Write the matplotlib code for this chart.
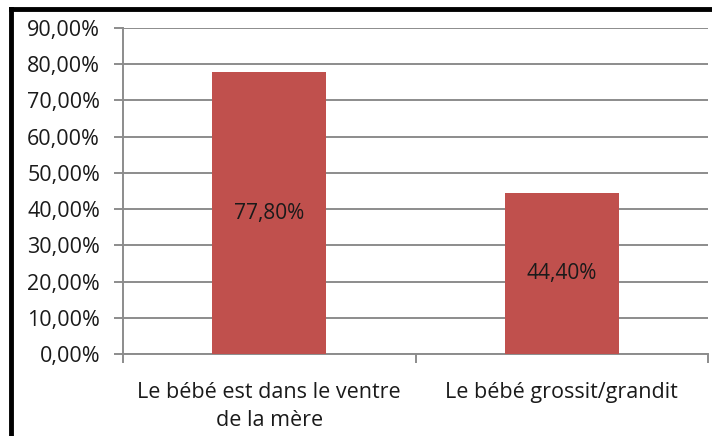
import matplotlib
matplotlib.use("Agg")
import matplotlib.pyplot as plt
from matplotlib.lines import Line2D

categories = ["Le bébé est dans le ventre\nde la mère", "Le bébé grossit/grandit"]
values = [0.778, 0.444]
value_labels = ["77,80%", "44,40%"]
yticks = [0.0, 0.1, 0.2, 0.3, 0.4, 0.5, 0.6, 0.7, 0.8, 0.9]
ytick_labels = ["0,00%", "10,00%", "20,00%", "30,00%", "40,00%", "50,00%",
                "60,00%", "70,00%", "80,00%", "90,00%"]

plt.rcParams['font.family'] = ['Open Sans', 'DejaVu Sans']
fig = plt.figure(figsize=(7.12, 4.36), dpi=100)
ax = fig.add_axes([123/712, 1-354/436, (708-123)/712, (354-28)/436])

fs = 15.5
grid_c = "#8c8c8c"
x = list(range(len(categories)))
ax.bar(x, values, width=0.39, color="#C0504D", zorder=3)
for xi, v, lab in zip(x, values, value_labels):
    ax.text(xi, v/2, lab, ha="center", va="center", fontsize=15, color="#1a1a1a", zorder=4)

ax.set_xlim(-0.5, 1.5)
ax.set_ylim(0, 0.9)
ax.set_yticks(yticks)
ax.set_yticklabels(ytick_labels, fontsize=fs, color="#1a1a1a")
ax.yaxis.grid(True, color=grid_c, linewidth=1.4, zorder=0)
ax.set_axisbelow(True)
ax.tick_params(axis="y", length=6.5, width=1.4, color=grid_c, pad=10)

ax.set_xticks(x)
ax.set_xticklabels(categories, fontsize=15.5, color="#1a1a1a", linespacing=1.45)
ax.set_xticks([-0.5, 0.5, 1.5], minor=True)
ax.tick_params(axis="x", which="major", length=0, pad=20)
ax.tick_params(axis="x", which="minor", length=6.5, width=1.4, color=grid_c)

for s in ["top", "right"]:
    ax.spines[s].set_visible(False)
for s in ["left", "bottom"]:
    ax.spines[s].set_color(grid_c)
    ax.spines[s].set_linewidth(1.4)

# outer black frame (top and left edges)
fig.add_artist(Line2D([11/712, 1.0], [1-9/436, 1-9/436], transform=fig.transFigure, color="black", linewidth=3.5))
fig.add_artist(Line2D([11/712, 11/712], [0.0, 1-9/436], transform=fig.transFigure, color="black", linewidth=3.5))

fig.savefig("out.png", dpi=100)
